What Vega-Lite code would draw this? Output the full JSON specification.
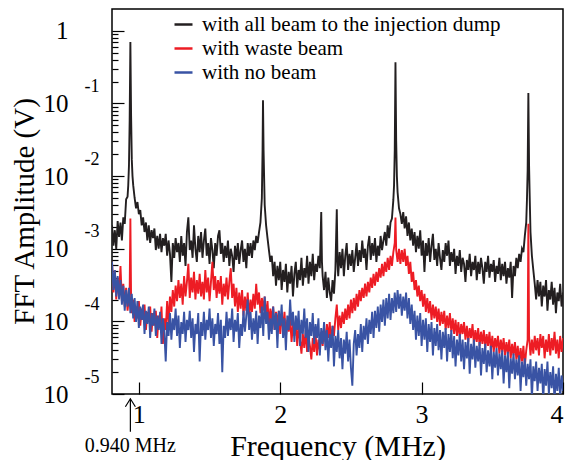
{
"$schema": "https://vega.github.io/schema/vega-lite/v6.json",
"width": 451, "height": 385,
"autosize": {"type": "none"},
"padding": {"left": 112, "top": 9, "right": 4, "bottom": 66},
"config": {
  "font": "Liberation Serif",
  "view": {"stroke": "#000", "strokeWidth": 1.5},
  "axis": {"labelColor": "#000", "titleColor": "#000", "tickColor": "#000", "grid": false, "domain": false, "titleFontWeight": "normal", "labelFont": "Liberation Serif", "titleFont": "Liberation Serif"},
  "legend": {"labelFont": "Liberation Serif", "labelColor": "#000"}
},
"datasets": {
"k": [
{"f":0.81,"v":2.1e-3},{"f":0.82,"v":1.1e-3},{"f":0.83,"v":1.8e-3},{"f":0.84,"v":9.9e-4},{"f":0.85,"v":2.4e-3},{"f":0.86,"v":1.45e-3},{"f":0.87,"v":2.3e-3},{"f":0.88,"v":1.3e-3},{"f":0.89,"v":2.7e-3},{"f":0.90,"v":2.2e-3},
{"f":0.91,"v":4.8e-3},{"f":0.92,"v":5.2e-3},{"f":0.925,"v":7.5e-3},{"f":0.93,"v":1.4e-2},{"f":0.935,"v":5.9e-2},{"f":0.94,"v":0.70},{"f":0.945,"v":6.9e-2},{"f":0.95,"v":1.7e-2},{"f":0.955,"v":1.0e-2},{"f":0.96,"v":7.5e-3},{"f":0.97,"v":5.0e-3},{"f":0.98,"v":3.6e-3},{"f":0.99,"v":4.4e-3},{"f":1.00,"v":3.0e-3},
{"f":1.01,"v":3.4e-3},{"f":1.02,"v":2.1e-3},{"f":1.03,"v":2.7e-3},{"f":1.04,"v":1.7e-3},{"f":1.05,"v":2.3e-3},{"f":1.06,"v":1.3e-3},{"f":1.07,"v":2.1e-3},{"f":1.08,"v":1.2e-3},{"f":1.09,"v":1.8e-3},{"f":1.10,"v":1.4e-3},
{"f":1.11,"v":1.9e-3},{"f":1.12,"v":9.6e-4},{"f":1.13,"v":1.5e-3},{"f":1.14,"v":1.0e-3},{"f":1.15,"v":1.6e-3},{"f":1.16,"v":9.0e-4},{"f":1.17,"v":1.4e-3},{"f":1.18,"v":1.1e-3},{"f":1.19,"v":1.6e-3},{"f":1.20,"v":8.0e-4},
{"f":1.21,"v":1.3e-3},{"f":1.22,"v":8.5e-4},{"f":1.23,"v":3.5e-4},{"f":1.24,"v":1.2e-3},{"f":1.25,"v":7.5e-4},{"f":1.26,"v":1.4e-3},{"f":1.27,"v":9.0e-4},{"f":1.28,"v":1.2e-3},{"f":1.29,"v":6.6e-4},{"f":1.30,"v":1.5e-3},
{"f":1.31,"v":8.0e-4},{"f":1.32,"v":1.2e-3},{"f":1.33,"v":5.8e-4},{"f":1.34,"v":1.7e-3},{"f":1.35,"v":2.7e-3},{"f":1.36,"v":9.6e-4},{"f":1.37,"v":1.3e-3},{"f":1.38,"v":7.5e-4},{"f":1.39,"v":2.1e-3},{"f":1.40,"v":1.0e-3},
{"f":1.41,"v":6.6e-4},{"f":1.42,"v":1.5e-3},{"f":1.43,"v":9.0e-4},{"f":1.44,"v":1.7e-3},{"f":1.45,"v":7.5e-4},{"f":1.46,"v":1.3e-3},{"f":1.47,"v":1.9e-3},{"f":1.48,"v":8.0e-4},{"f":1.49,"v":1.2e-3},{"f":1.50,"v":6.2e-4},
{"f":1.51,"v":1.4e-3},{"f":1.52,"v":9.6e-4},{"f":1.53,"v":5.4e-4},{"f":1.54,"v":1.2e-3},{"f":1.55,"v":8.0e-4},{"f":1.56,"v":1.5e-3},{"f":1.57,"v":1.8e-3},{"f":1.58,"v":8.5e-4},{"f":1.59,"v":1.2e-3},{"f":1.60,"v":6.6e-4},
{"f":1.61,"v":1.1e-3},{"f":1.62,"v":7.5e-4},{"f":1.63,"v":1.3e-3},{"f":1.64,"v":5.8e-4},{"f":1.65,"v":1.0e-3},{"f":1.66,"v":8.0e-4},{"f":1.67,"v":4.8e-4},{"f":1.68,"v":1.1e-3},{"f":1.69,"v":7.0e-4},{"f":1.70,"v":1.2e-3},
{"f":1.71,"v":6.2e-4},{"f":1.72,"v":9.6e-4},{"f":1.73,"v":1.3e-3},{"f":1.74,"v":6.6e-4},{"f":1.75,"v":1.0e-3},{"f":1.76,"v":5.4e-4},{"f":1.77,"v":1.2e-3},{"f":1.78,"v":8.0e-4},{"f":1.79,"v":1.2e-3},{"f":1.80,"v":7.5e-4},
{"f":1.81,"v":1.3e-3},{"f":1.82,"v":9.6e-4},{"f":1.83,"v":1.5e-3},{"f":1.84,"v":1.2e-3},{"f":1.85,"v":1.7e-3},{"f":1.86,"v":2.3e-3},{"f":1.87,"v":5.0e-3},{"f":1.875,"v":2.3e-2},{"f":1.878,"v":0.111},{"f":1.882,"v":2.3e-2},{"f":1.89,"v":4.0e-3},{"f":1.90,"v":2.1e-3},
{"f":1.91,"v":1.4e-3},{"f":1.92,"v":9.6e-4},{"f":1.93,"v":6.6e-4},{"f":1.94,"v":8.0e-4},{"f":1.95,"v":4.2e-4},{"f":1.96,"v":6.6e-4},{"f":1.97,"v":3.1e-4},{"f":1.98,"v":5.8e-4},{"f":1.99,"v":3.7e-4},{"f":2.00,"v":6.6e-4},
{"f":2.01,"v":2.7e-4},{"f":2.02,"v":5.1e-4},{"f":2.03,"v":3.5e-4},{"f":2.04,"v":6.2e-4},{"f":2.05,"v":2.5e-4},{"f":2.06,"v":4.8e-4},{"f":2.07,"v":3.3e-4},{"f":2.08,"v":5.8e-4},{"f":2.09,"v":2.2e-4},{"f":2.10,"v":4.5e-4},
{"f":2.11,"v":6.6e-4},{"f":2.12,"v":2.9e-4},{"f":2.13,"v":5.1e-4},{"f":2.14,"v":3.7e-4},{"f":2.15,"v":7.5e-4},{"f":2.16,"v":3.1e-4},{"f":2.17,"v":5.4e-4},{"f":2.18,"v":4.0e-4},{"f":2.19,"v":8.0e-4},{"f":2.20,"v":3.3e-4},
{"f":2.21,"v":6.6e-4},{"f":2.22,"v":4.2e-4},{"f":2.23,"v":8.5e-4},{"f":2.24,"v":3.7e-4},{"f":2.25,"v":6.2e-4},{"f":2.26,"v":4.8e-4},{"f":2.27,"v":8.0e-4},{"f":2.28,"v":5.4e-4},{"f":2.29,"v":3.2e-3},{"f":2.295,"v":6.6e-4},{"f":2.30,"v":4.2e-4},
{"f":2.31,"v":2.7e-4},{"f":2.32,"v":4.8e-4},{"f":2.33,"v":2.1e-4},{"f":2.34,"v":4.0e-4},{"f":2.35,"v":2.5e-4},{"f":2.36,"v":1.9e-4},{"f":2.37,"v":3.7e-4},{"f":2.38,"v":2.4e-4},{"f":2.39,"v":5.1e-4},{"f":2.40,"v":3.5e-3},{"f":2.405,"v":6.6e-4},
{"f":2.41,"v":4.2e-4},{"f":2.42,"v":9.0e-4},{"f":2.43,"v":5.4e-4},{"f":2.44,"v":1.0e-3},{"f":2.45,"v":4.2e-4},{"f":2.46,"v":8.0e-4},{"f":2.47,"v":1.2e-3},{"f":2.48,"v":5.1e-4},{"f":2.49,"v":8.5e-4},{"f":2.50,"v":5.8e-4},
{"f":2.51,"v":9.6e-4},{"f":2.52,"v":4.8e-4},{"f":2.53,"v":7.5e-4},{"f":2.54,"v":1.2e-3},{"f":2.55,"v":5.8e-4},{"f":2.56,"v":9.6e-4},{"f":2.57,"v":6.6e-4},{"f":2.58,"v":1.3e-3},{"f":2.59,"v":7.5e-4},{"f":2.60,"v":1.0e-3},
{"f":2.61,"v":5.1e-4},{"f":2.62,"v":1.1e-3},{"f":2.63,"v":1.5e-3},{"f":2.64,"v":7.0e-4},{"f":2.65,"v":1.2e-3},{"f":2.66,"v":8.0e-4},{"f":2.67,"v":1.4e-3},{"f":2.68,"v":6.6e-4},{"f":2.69,"v":1.1e-3},{"f":2.70,"v":8.0e-4},
{"f":2.71,"v":1.5e-3},{"f":2.72,"v":9.6e-4},{"f":2.73,"v":1.3e-3},{"f":2.74,"v":1.7e-3},{"f":2.75,"v":1.1e-3},{"f":2.76,"v":2.1e-3},{"f":2.77,"v":1.4e-3},{"f":2.78,"v":2.3e-3},{"f":2.79,"v":2.6e-3},{"f":2.80,"v":4.7e-3},
{"f":2.805,"v":7.5e-3},{"f":2.81,"v":2.3e-2},{"f":2.815,"v":0.37},{"f":2.82,"v":3.1e-2},{"f":2.825,"v":1.0e-2},{"f":2.83,"v":6.0e-3},{"f":2.84,"v":3.6e-3},{"f":2.85,"v":3.0e-3},{"f":2.86,"v":2.2e-3},{"f":2.87,"v":3.2e-3},{"f":2.88,"v":1.9e-3},{"f":2.89,"v":2.8e-3},{"f":2.90,"v":1.5e-3},
{"f":2.91,"v":2.3e-3},{"f":2.92,"v":1.3e-3},{"f":2.93,"v":1.9e-3},{"f":2.94,"v":1.1e-3},{"f":2.95,"v":1.7e-3},{"f":2.96,"v":9.0e-4},{"f":2.97,"v":1.5e-3},{"f":2.98,"v":1.0e-3},{"f":2.99,"v":1.8e-3},{"f":3.00,"v":8.0e-4},
{"f":3.01,"v":1.3e-3},{"f":3.02,"v":4.8e-4},{"f":3.03,"v":1.2e-3},{"f":3.04,"v":8.0e-4},{"f":3.05,"v":1.4e-3},{"f":3.06,"v":6.6e-4},{"f":3.07,"v":1.1e-3},{"f":3.08,"v":1.6e-3},{"f":3.09,"v":7.0e-4},{"f":3.10,"v":1.0e-3},
{"f":3.11,"v":5.8e-4},{"f":3.12,"v":1.2e-3},{"f":3.13,"v":7.5e-4},{"f":3.14,"v":5.1e-4},{"f":3.15,"v":9.6e-4},{"f":3.16,"v":6.6e-4},{"f":3.17,"v":1.2e-3},{"f":3.18,"v":8.0e-4},{"f":3.19,"v":1.3e-3},{"f":3.20,"v":5.8e-4},
{"f":3.21,"v":9.0e-4},{"f":3.22,"v":6.6e-4},{"f":3.23,"v":1.0e-3},{"f":3.24,"v":4.5e-4},{"f":3.25,"v":8.0e-4},{"f":3.26,"v":5.8e-4},{"f":3.27,"v":9.6e-4},{"f":3.28,"v":4.8e-4},{"f":3.29,"v":7.5e-4},{"f":3.30,"v":6.2e-4},
{"f":3.31,"v":3.5e-4},{"f":3.32,"v":7.0e-4},{"f":3.33,"v":5.1e-4},{"f":3.34,"v":8.5e-4},{"f":3.35,"v":4.2e-4},{"f":3.36,"v":6.6e-4},{"f":3.37,"v":5.1e-4},{"f":3.38,"v":8.0e-4},{"f":3.39,"v":3.7e-4},{"f":3.40,"v":6.6e-4},
{"f":3.41,"v":4.5e-4},{"f":3.42,"v":7.5e-4},{"f":3.43,"v":5.4e-4},{"f":3.44,"v":3.3e-4},{"f":3.45,"v":6.6e-4},{"f":3.46,"v":4.8e-4},{"f":3.47,"v":8.0e-4},{"f":3.48,"v":4.0e-4},{"f":3.49,"v":6.2e-4},{"f":3.50,"v":4.8e-4},
{"f":3.51,"v":7.0e-4},{"f":3.52,"v":3.5e-4},{"f":3.53,"v":5.8e-4},{"f":3.54,"v":4.5e-4},{"f":3.55,"v":7.5e-4},{"f":3.56,"v":3.7e-4},{"f":3.57,"v":6.2e-4},{"f":3.58,"v":4.2e-4},{"f":3.59,"v":6.6e-4},{"f":3.60,"v":3.3e-4},
{"f":3.61,"v":5.4e-4},{"f":3.62,"v":4.0e-4},{"f":3.63,"v":6.6e-4},{"f":3.64,"v":2.1e-4},{"f":3.65,"v":5.8e-4},{"f":3.66,"v":4.2e-4},{"f":3.67,"v":7.5e-4},{"f":3.68,"v":5.4e-4},{"f":3.69,"v":8.5e-4},{"f":3.70,"v":6.6e-4},
{"f":3.71,"v":1.0e-3},{"f":3.72,"v":9.0e-4},{"f":3.73,"v":1.5e-3},{"f":3.74,"v":2.3e-3},{"f":3.745,"v":4.7e-3},{"f":3.75,"v":1.2e-2},{"f":3.755,"v":0.139},{"f":3.76,"v":1.4e-2},{"f":3.765,"v":4.7e-3},{"f":3.77,"v":1.7e-3},{"f":3.78,"v":8.0e-4},{"f":3.79,"v":5.1e-4},{"f":3.80,"v":3.3e-4},
{"f":3.81,"v":2.0e-4},{"f":3.82,"v":3.7e-4},{"f":3.83,"v":2.2e-4},{"f":3.84,"v":3.5e-4},{"f":3.85,"v":1.6e-4},{"f":3.86,"v":3.1e-4},{"f":3.87,"v":2.2e-4},{"f":3.88,"v":3.7e-4},{"f":3.89,"v":1.4e-4},{"f":3.90,"v":2.7e-4},
{"f":3.91,"v":2.0e-4},{"f":3.92,"v":3.5e-4},{"f":3.93,"v":1.7e-4},{"f":3.94,"v":2.9e-4},{"f":3.95,"v":1.3e-4},{"f":3.96,"v":2.5e-4},{"f":3.97,"v":1.9e-4},{"f":3.98,"v":3.3e-4},{"f":3.99,"v":1.6e-4},{"f":4.00,"v":2.5e-4},{"f":4.01,"v":2.0e-4}
],
"r": [
{"f":0.81,"v":6.6e-4},{"f":0.82,"v":2.5e-4},{"f":0.83,"v":5.1e-4},{"f":0.84,"v":2.0e-4},{"f":0.85,"v":4.0e-4},{"f":0.86,"v":2.2e-4},{"f":0.87,"v":5.8e-4},{"f":0.88,"v":1.9e-4},{"f":0.89,"v":3.3e-4},{"f":0.90,"v":1.6e-4},
{"f":0.91,"v":2.9e-4},{"f":0.92,"v":1.4e-4},{"f":0.93,"v":2.2e-4},{"f":0.935,"v":2.7e-4},{"f":0.94,"v":2.6e-3},{"f":0.945,"v":2.1e-4},{"f":0.95,"v":1.3e-4},{"f":0.96,"v":2.0e-4},{"f":0.97,"v":9.8e-5},{"f":0.98,"v":1.6e-4},{"f":0.99,"v":1.1e-4},{"f":1.00,"v":1.9e-4},
{"f":1.01,"v":8.7e-5},{"f":1.02,"v":1.5e-4},{"f":1.03,"v":1.05e-4},{"f":1.04,"v":1.7e-4},{"f":1.05,"v":7.6e-5},{"f":1.06,"v":1.35e-4},{"f":1.07,"v":9.8e-5},{"f":1.08,"v":1.6e-4},{"f":1.09,"v":7.2e-5},{"f":1.10,"v":1.3e-4},
{"f":1.11,"v":8.7e-5},{"f":1.12,"v":1.4e-4},{"f":1.13,"v":5.9e-5},{"f":1.14,"v":1.2e-4},{"f":1.15,"v":8.1e-5},{"f":1.16,"v":1.6e-4},{"f":1.17,"v":4.9e-5},{"f":1.18,"v":1.1e-4},{"f":1.19,"v":7.6e-5},{"f":1.20,"v":1.9e-4},
{"f":1.21,"v":9.2e-5},{"f":1.22,"v":2.2e-4},{"f":1.23,"v":1.35e-4},{"f":1.24,"v":2.7e-4},{"f":1.25,"v":1.6e-4},{"f":1.26,"v":3.1e-4},{"f":1.27,"v":1.9e-4},{"f":1.28,"v":3.7e-4},{"f":1.29,"v":2.1e-4},{"f":1.30,"v":3.3e-4},
{"f":1.31,"v":1.7e-4},{"f":1.32,"v":4.2e-4},{"f":1.33,"v":2.2e-4},{"f":1.34,"v":3.5e-4},{"f":1.35,"v":6.2e-4},{"f":1.36,"v":2.1e-4},{"f":1.37,"v":4.0e-4},{"f":1.38,"v":2.5e-4},{"f":1.39,"v":4.8e-4},{"f":1.40,"v":2.0e-4},
{"f":1.41,"v":3.7e-4},{"f":1.42,"v":2.4e-4},{"f":1.43,"v":4.5e-4},{"f":1.44,"v":2.2e-4},{"f":1.45,"v":3.5e-4},{"f":1.46,"v":2.0e-4},{"f":1.47,"v":5.1e-4},{"f":1.48,"v":2.5e-4},{"f":1.49,"v":4.0e-4},{"f":1.50,"v":1.9e-4},
{"f":1.51,"v":3.5e-4},{"f":1.52,"v":6.6e-4},{"f":1.53,"v":2.7e-4},{"f":1.54,"v":4.2e-4},{"f":1.55,"v":2.1e-4},{"f":1.56,"v":3.7e-4},{"f":1.57,"v":2.4e-4},{"f":1.58,"v":4.2e-4},{"f":1.59,"v":1.7e-4},{"f":1.60,"v":3.3e-4},
{"f":1.61,"v":2.2e-4},{"f":1.62,"v":4.0e-4},{"f":1.63,"v":2.0e-4},{"f":1.64,"v":3.5e-4},{"f":1.65,"v":5.4e-4},{"f":1.66,"v":2.1e-4},{"f":1.67,"v":3.3e-4},{"f":1.68,"v":1.6e-4},{"f":1.69,"v":2.9e-4},{"f":1.70,"v":1.35e-4},
{"f":1.71,"v":2.5e-4},{"f":1.72,"v":1.5e-4},{"f":1.73,"v":2.7e-4},{"f":1.74,"v":1.2e-4},{"f":1.75,"v":2.2e-4},{"f":1.76,"v":1.4e-4},{"f":1.77,"v":2.5e-4},{"f":1.78,"v":1.1e-4},{"f":1.79,"v":2.0e-4},{"f":1.80,"v":1.35e-4},
{"f":1.81,"v":2.4e-4},{"f":1.82,"v":1.5e-4},{"f":1.83,"v":3.3e-4},{"f":1.84,"v":1.7e-4},{"f":1.85,"v":2.5e-4},{"f":1.86,"v":1.3e-4},{"f":1.87,"v":2.1e-4},{"f":1.88,"v":1.4e-4},{"f":1.89,"v":2.2e-4},{"f":1.90,"v":1.1e-4},
{"f":1.91,"v":1.9e-4},{"f":1.92,"v":8.7e-5},{"f":1.93,"v":1.5e-4},{"f":1.94,"v":1.05e-4},{"f":1.95,"v":1.6e-4},{"f":1.96,"v":7.6e-5},{"f":1.97,"v":1.35e-4},{"f":1.98,"v":9.2e-5},{"f":1.99,"v":1.4e-4},{"f":2.00,"v":6.7e-5},
{"f":2.01,"v":1.2e-4},{"f":2.02,"v":8.1e-5},{"f":2.03,"v":1.35e-4},{"f":2.04,"v":5.9e-5},{"f":2.05,"v":1.05e-4},{"f":2.06,"v":7.2e-5},{"f":2.07,"v":1.1e-4},{"f":2.08,"v":5.2e-5},{"f":2.09,"v":9.2e-5},{"f":2.10,"v":6.3e-5},
{"f":2.11,"v":1.05e-4},{"f":2.12,"v":4.6e-5},{"f":2.13,"v":8.1e-5},{"f":2.14,"v":5.6e-5},{"f":2.15,"v":3.6e-5},{"f":2.16,"v":6.7e-5},{"f":2.17,"v":4.3e-5},{"f":2.18,"v":7.6e-5},{"f":2.19,"v":3.8e-5},{"f":2.20,"v":6.3e-5},
{"f":2.21,"v":4.6e-5},{"f":2.22,"v":3.0e-5},{"f":2.23,"v":5.9e-5},{"f":2.24,"v":3.8e-5},{"f":2.25,"v":6.7e-5},{"f":2.26,"v":3.4e-5},{"f":2.27,"v":5.6e-5},{"f":2.28,"v":4.0e-5},{"f":2.29,"v":7.2e-5},{"f":2.30,"v":4.6e-5},
{"f":2.31,"v":8.1e-5},{"f":2.32,"v":5.2e-5},{"f":2.33,"v":9.2e-5},{"f":2.34,"v":5.9e-5},{"f":2.35,"v":9.8e-5},{"f":2.36,"v":4.9e-5},{"f":2.37,"v":8.7e-5},{"f":2.38,"v":6.3e-5},{"f":2.39,"v":1.1e-4},{"f":2.40,"v":1.7e-4},
{"f":2.41,"v":7.6e-5},{"f":2.42,"v":1.2e-4},{"f":2.43,"v":8.1e-5},{"f":2.44,"v":1.35e-4},{"f":2.45,"v":9.2e-5},{"f":2.46,"v":1.5e-4},{"f":2.47,"v":1.05e-4},{"f":2.48,"v":1.7e-4},{"f":2.49,"v":1.1e-4},{"f":2.50,"v":2.0e-4},
{"f":2.51,"v":1.3e-4},{"f":2.52,"v":2.1e-4},{"f":2.53,"v":1.4e-4},{"f":2.54,"v":2.4e-4},{"f":2.55,"v":1.6e-4},{"f":2.56,"v":2.7e-4},{"f":2.57,"v":1.9e-4},{"f":2.58,"v":2.9e-4},{"f":2.59,"v":2.1e-4},{"f":2.60,"v":3.3e-4},
{"f":2.61,"v":2.2e-4},{"f":2.62,"v":3.5e-4},{"f":2.63,"v":2.5e-4},{"f":2.64,"v":4.0e-4},{"f":2.65,"v":2.9e-4},{"f":2.66,"v":4.5e-4},{"f":2.67,"v":3.1e-4},{"f":2.68,"v":4.8e-4},{"f":2.69,"v":3.5e-4},{"f":2.70,"v":5.4e-4},
{"f":2.71,"v":4.0e-4},{"f":2.72,"v":6.2e-4},{"f":2.73,"v":4.2e-4},{"f":2.74,"v":6.6e-4},{"f":2.75,"v":4.8e-4},{"f":2.76,"v":7.5e-4},{"f":2.77,"v":5.1e-4},{"f":2.78,"v":8.0e-4},{"f":2.79,"v":5.8e-4},{"f":2.80,"v":9.0e-4},
{"f":2.81,"v":1.2e-3},{"f":2.815,"v":2.7e-3},{"f":2.82,"v":9.6e-4},{"f":2.83,"v":6.6e-4},{"f":2.84,"v":1.0e-3},{"f":2.85,"v":6.2e-4},{"f":2.86,"v":9.6e-4},{"f":2.87,"v":6.6e-4},{"f":2.88,"v":1.0e-3},{"f":2.89,"v":5.8e-4},{"f":2.90,"v":8.0e-4},
{"f":2.91,"v":4.5e-4},{"f":2.92,"v":6.6e-4},{"f":2.93,"v":3.5e-4},{"f":2.94,"v":4.8e-4},{"f":2.95,"v":2.7e-4},{"f":2.96,"v":3.7e-4},{"f":2.97,"v":2.2e-4},{"f":2.98,"v":3.1e-4},{"f":2.99,"v":1.9e-4},{"f":3.00,"v":2.7e-4},
{"f":3.01,"v":1.6e-4},{"f":3.02,"v":2.4e-4},{"f":3.03,"v":1.35e-4},{"f":3.04,"v":2.1e-4},{"f":3.05,"v":1.3e-4},{"f":3.06,"v":1.9e-4},{"f":3.07,"v":1.05e-4},{"f":3.08,"v":1.7e-4},{"f":3.09,"v":1.1e-4},{"f":3.10,"v":1.6e-4},
{"f":3.11,"v":9.8e-5},{"f":3.12,"v":1.5e-4},{"f":3.13,"v":8.7e-5},{"f":3.14,"v":1.35e-4},{"f":3.15,"v":9.2e-5},{"f":3.16,"v":1.4e-4},{"f":3.17,"v":7.6e-5},{"f":3.18,"v":1.2e-4},{"f":3.19,"v":8.1e-5},{"f":3.20,"v":1.3e-4},
{"f":3.21,"v":7.2e-5},{"f":3.22,"v":1.1e-4},{"f":3.23,"v":6.7e-5},{"f":3.24,"v":1.05e-4},{"f":3.25,"v":6.3e-5},{"f":3.26,"v":9.8e-5},{"f":3.27,"v":5.9e-5},{"f":3.28,"v":9.2e-5},{"f":3.29,"v":6.7e-5},{"f":3.30,"v":9.8e-5},
{"f":3.31,"v":5.6e-5},{"f":3.32,"v":8.7e-5},{"f":3.33,"v":5.2e-5},{"f":3.34,"v":8.1e-5},{"f":3.35,"v":5.9e-5},{"f":3.36,"v":9.2e-5},{"f":3.37,"v":4.9e-5},{"f":3.38,"v":7.6e-5},{"f":3.39,"v":5.2e-5},{"f":3.40,"v":8.1e-5},
{"f":3.41,"v":4.6e-5},{"f":3.42,"v":7.2e-5},{"f":3.43,"v":4.9e-5},{"f":3.44,"v":7.6e-5},{"f":3.45,"v":4.3e-5},{"f":3.46,"v":6.7e-5},{"f":3.47,"v":4.6e-5},{"f":3.48,"v":7.2e-5},{"f":3.49,"v":4.0e-5},{"f":3.50,"v":6.3e-5},
{"f":3.51,"v":3.8e-5},{"f":3.52,"v":5.9e-5},{"f":3.53,"v":4.3e-5},{"f":3.54,"v":6.3e-5},{"f":3.55,"v":3.6e-5},{"f":3.56,"v":5.6e-5},{"f":3.57,"v":3.8e-5},{"f":3.58,"v":5.9e-5},{"f":3.59,"v":3.4e-5},{"f":3.60,"v":5.2e-5},
{"f":3.61,"v":3.6e-5},{"f":3.62,"v":5.6e-5},{"f":3.63,"v":3.1e-5},{"f":3.64,"v":4.9e-5},{"f":3.65,"v":3.4e-5},{"f":3.66,"v":5.2e-5},{"f":3.67,"v":3.0e-5},{"f":3.68,"v":4.6e-5},{"f":3.69,"v":2.6e-5},{"f":3.70,"v":4.3e-5},
{"f":3.71,"v":2.8e-5},{"f":3.72,"v":4.6e-5},{"f":3.73,"v":2.4e-5},{"f":3.74,"v":4.0e-5},{"f":3.75,"v":5.6e-5},{"f":3.755,"v":2.2e-3},{"f":3.76,"v":6.3e-5},{"f":3.77,"v":3.4e-5},{"f":3.78,"v":5.6e-5},{"f":3.79,"v":3.6e-5},{"f":3.80,"v":6.3e-5},
{"f":3.81,"v":4.0e-5},{"f":3.82,"v":5.9e-5},{"f":3.83,"v":3.4e-5},{"f":3.84,"v":6.7e-5},{"f":3.85,"v":4.3e-5},{"f":3.86,"v":6.3e-5},{"f":3.87,"v":3.1e-5},{"f":3.88,"v":5.6e-5},{"f":3.89,"v":3.8e-5},{"f":3.90,"v":6.7e-5},
{"f":3.91,"v":3.4e-5},{"f":3.92,"v":5.9e-5},{"f":3.93,"v":4.0e-5},{"f":3.94,"v":7.2e-5},{"f":3.95,"v":3.6e-5},{"f":3.96,"v":5.6e-5},{"f":3.97,"v":3.1e-5},{"f":3.98,"v":6.3e-5},{"f":3.99,"v":3.8e-5},{"f":4.00,"v":5.9e-5},{"f":4.01,"v":4.3e-5}
],
"b": [
{"f":0.81,"v":6.6e-4},{"f":0.82,"v":2.7e-4},{"f":0.83,"v":5.1e-4},{"f":0.84,"v":2.2e-4},{"f":0.85,"v":4.2e-4},{"f":0.86,"v":2.0e-4},{"f":0.87,"v":3.7e-4},{"f":0.88,"v":1.7e-4},{"f":0.89,"v":3.1e-4},{"f":0.90,"v":1.4e-4},
{"f":0.91,"v":2.7e-4},{"f":0.92,"v":1.6e-4},{"f":0.93,"v":2.9e-4},{"f":0.94,"v":1.3e-4},{"f":0.95,"v":2.4e-4},{"f":0.96,"v":1.1e-4},{"f":0.97,"v":2.1e-4},{"f":0.98,"v":9.8e-5},{"f":0.99,"v":1.9e-4},{"f":1.00,"v":8.1e-5},
{"f":1.01,"v":1.6e-4},{"f":1.02,"v":1.05e-4},{"f":1.03,"v":1.7e-4},{"f":1.04,"v":6.7e-5},{"f":1.05,"v":1.4e-4},{"f":1.06,"v":9.2e-5},{"f":1.07,"v":1.6e-4},{"f":1.08,"v":5.9e-5},{"f":1.09,"v":1.3e-4},{"f":1.10,"v":8.7e-5},
{"f":1.11,"v":1.5e-4},{"f":1.12,"v":6.3e-5},{"f":1.13,"v":1.2e-4},{"f":1.14,"v":7.6e-5},{"f":1.15,"v":1.35e-4},{"f":1.16,"v":4.9e-5},{"f":1.17,"v":1.1e-4},{"f":1.18,"v":7.2e-5},{"f":1.19,"v":2.8e-5},{"f":1.20,"v":9.8e-5},
{"f":1.21,"v":6.3e-5},{"f":1.22,"v":1.3e-4},{"f":1.23,"v":5.6e-5},{"f":1.24,"v":1.1e-4},{"f":1.25,"v":7.6e-5},{"f":1.26,"v":1.5e-4},{"f":1.27,"v":6.3e-5},{"f":1.28,"v":1.2e-4},{"f":1.29,"v":4.3e-5},{"f":1.30,"v":9.8e-5},
{"f":1.31,"v":6.7e-5},{"f":1.32,"v":1.35e-4},{"f":1.33,"v":5.2e-5},{"f":1.34,"v":1.05e-4},{"f":1.35,"v":7.6e-5},{"f":1.36,"v":1.4e-4},{"f":1.37,"v":5.9e-5},{"f":1.38,"v":1.1e-4},{"f":1.39,"v":3.8e-5},{"f":1.40,"v":9.2e-5},
{"f":1.41,"v":6.7e-5},{"f":1.42,"v":1.3e-4},{"f":1.43,"v":2.8e-5},{"f":1.44,"v":9.8e-5},{"f":1.45,"v":6.3e-5},{"f":1.46,"v":1.35e-4},{"f":1.47,"v":5.6e-5},{"f":1.48,"v":1.05e-4},{"f":1.49,"v":7.6e-5},{"f":1.50,"v":1.5e-4},
{"f":1.51,"v":5.9e-5},{"f":1.52,"v":1.1e-4},{"f":1.53,"v":4.6e-5},{"f":1.54,"v":9.2e-5},{"f":1.55,"v":6.7e-5},{"f":1.56,"v":1.3e-4},{"f":1.57,"v":4.9e-5},{"f":1.58,"v":1.05e-4},{"f":1.59,"v":2.0e-5},{"f":1.60,"v":8.7e-5},
{"f":1.61,"v":5.9e-5},{"f":1.62,"v":1.35e-4},{"f":1.63,"v":6.3e-5},{"f":1.64,"v":1.1e-4},{"f":1.65,"v":7.6e-5},{"f":1.66,"v":1.5e-4},{"f":1.67,"v":5.2e-5},{"f":1.68,"v":1.05e-4},{"f":1.69,"v":7.2e-5},{"f":1.70,"v":1.3e-4},
{"f":1.71,"v":4.3e-5},{"f":1.72,"v":9.2e-5},{"f":1.73,"v":6.3e-5},{"f":1.74,"v":1.4e-4},{"f":1.75,"v":7.2e-5},{"f":1.76,"v":1.2e-4},{"f":1.77,"v":2.0e-4},{"f":1.78,"v":7.6e-5},{"f":1.79,"v":1.35e-4},{"f":1.80,"v":5.6e-5},
{"f":1.81,"v":1.1e-4},{"f":1.82,"v":6.7e-5},{"f":1.83,"v":1.4e-4},{"f":1.84,"v":4.9e-5},{"f":1.85,"v":1.2e-4},{"f":1.86,"v":8.1e-5},{"f":1.87,"v":1.6e-4},{"f":1.88,"v":6.3e-5},{"f":1.89,"v":2.2e-4},{"f":1.90,"v":9.2e-5},
{"f":1.91,"v":1.35e-4},{"f":1.92,"v":5.6e-5},{"f":1.93,"v":1.1e-4},{"f":1.94,"v":6.7e-5},{"f":1.95,"v":1.6e-4},{"f":1.96,"v":7.6e-5},{"f":1.97,"v":1.3e-4},{"f":1.98,"v":4.3e-5},{"f":1.99,"v":1.4e-4},{"f":2.00,"v":8.7e-5},
{"f":2.01,"v":1.7e-4},{"f":2.02,"v":5.9e-5},{"f":2.03,"v":1.1e-4},{"f":2.04,"v":4.0e-5},{"f":2.05,"v":1.2e-4},{"f":2.06,"v":7.6e-5},{"f":2.07,"v":2.0e-4},{"f":2.08,"v":8.7e-5},{"f":2.09,"v":1.35e-4},{"f":2.10,"v":5.2e-5},
{"f":2.11,"v":1.2e-4},{"f":2.12,"v":7.6e-5},{"f":2.13,"v":1.4e-4},{"f":2.14,"v":4.6e-5},{"f":2.15,"v":1.05e-4},{"f":2.16,"v":6.7e-5},{"f":2.17,"v":1.5e-4},{"f":2.18,"v":5.9e-5},{"f":2.19,"v":1.1e-4},{"f":2.20,"v":3.8e-5},
{"f":2.21,"v":9.8e-5},{"f":2.22,"v":6.3e-5},{"f":2.23,"v":1.3e-4},{"f":2.24,"v":4.9e-5},{"f":2.25,"v":9.2e-5},{"f":2.26,"v":5.9e-5},{"f":2.27,"v":1.1e-4},{"f":2.28,"v":3.4e-5},{"f":2.29,"v":8.1e-5},{"f":2.30,"v":4.9e-5},
{"f":2.31,"v":9.8e-5},{"f":2.32,"v":4.0e-5},{"f":2.33,"v":7.6e-5},{"f":2.34,"v":2.8e-5},{"f":2.35,"v":6.7e-5},{"f":2.36,"v":4.3e-5},{"f":2.37,"v":8.7e-5},{"f":2.38,"v":2.4e-5},{"f":2.39,"v":6.3e-5},{"f":2.40,"v":3.8e-5},
{"f":2.41,"v":7.6e-5},{"f":2.42,"v":3.1e-5},{"f":2.43,"v":5.9e-5},{"f":2.44,"v":2.2e-5},{"f":2.45,"v":5.6e-5},{"f":2.46,"v":3.6e-5},{"f":2.47,"v":7.2e-5},{"f":2.48,"v":2.8e-5},{"f":2.49,"v":5.6e-5},{"f":2.50,"v":2.3e-5},
{"f":2.51,"v":1.3e-5},{"f":2.52,"v":4.9e-5},{"f":2.53,"v":7.6e-5},{"f":2.54,"v":3.4e-5},{"f":2.55,"v":6.7e-5},{"f":2.56,"v":4.3e-5},{"f":2.57,"v":9.2e-5},{"f":2.58,"v":3.8e-5},{"f":2.59,"v":8.7e-5},{"f":2.60,"v":5.6e-5},
{"f":2.61,"v":1.1e-4},{"f":2.62,"v":4.9e-5},{"f":2.63,"v":1.05e-4},{"f":2.64,"v":6.7e-5},{"f":2.65,"v":1.35e-4},{"f":2.66,"v":5.9e-5},{"f":2.67,"v":1.4e-4},{"f":2.68,"v":8.1e-5},{"f":2.69,"v":1.6e-4},{"f":2.70,"v":7.2e-5},
{"f":2.71,"v":1.7e-4},{"f":2.72,"v":9.8e-5},{"f":2.73,"v":2.0e-4},{"f":2.74,"v":8.7e-5},{"f":2.75,"v":2.1e-4},{"f":2.76,"v":1.1e-4},{"f":2.77,"v":2.4e-4},{"f":2.78,"v":1.05e-4},{"f":2.79,"v":2.1e-4},{"f":2.80,"v":1.3e-4},
{"f":2.81,"v":2.5e-4},{"f":2.82,"v":1.35e-4},{"f":2.83,"v":2.7e-4},{"f":2.84,"v":1.5e-4},{"f":2.85,"v":2.4e-4},{"f":2.86,"v":1.2e-4},{"f":2.87,"v":2.2e-4},{"f":2.88,"v":1.4e-4},{"f":2.89,"v":2.5e-4},{"f":2.90,"v":1.1e-4},
{"f":2.91,"v":2.1e-4},{"f":2.92,"v":9.2e-5},{"f":2.93,"v":1.7e-4},{"f":2.94,"v":7.6e-5},{"f":2.95,"v":1.4e-4},{"f":2.96,"v":5.6e-5},{"f":2.97,"v":1.2e-4},{"f":2.98,"v":6.3e-5},{"f":2.99,"v":1.3e-4},{"f":3.00,"v":4.6e-5},
{"f":3.01,"v":1.05e-4},{"f":3.02,"v":5.6e-5},{"f":3.03,"v":1.1e-4},{"f":3.04,"v":3.8e-5},{"f":3.05,"v":9.2e-5},{"f":3.06,"v":5.2e-5},{"f":3.07,"v":9.8e-5},{"f":3.08,"v":3.4e-5},{"f":3.09,"v":8.1e-5},{"f":3.10,"v":4.6e-5},
{"f":3.11,"v":9.2e-5},{"f":3.12,"v":4.0e-5},{"f":3.13,"v":7.6e-5},{"f":3.14,"v":3.0e-5},{"f":3.15,"v":7.2e-5},{"f":3.16,"v":4.3e-5},{"f":3.17,"v":8.1e-5},{"f":3.18,"v":2.8e-5},{"f":3.19,"v":6.7e-5},{"f":3.20,"v":3.8e-5},
{"f":3.21,"v":7.6e-5},{"f":3.22,"v":3.1e-5},{"f":3.23,"v":6.3e-5},{"f":3.24,"v":2.4e-5},{"f":3.25,"v":5.6e-5},{"f":3.26,"v":3.4e-5},{"f":3.27,"v":6.7e-5},{"f":3.28,"v":2.8e-5},{"f":3.29,"v":5.6e-5},{"f":3.30,"v":2.2e-5},
{"f":3.31,"v":5.2e-5},{"f":3.32,"v":3.1e-5},{"f":3.33,"v":5.9e-5},{"f":3.34,"v":1.9e-5},{"f":3.35,"v":4.9e-5},{"f":3.36,"v":3.0e-5},{"f":3.37,"v":5.6e-5},{"f":3.38,"v":2.3e-5},{"f":3.39,"v":4.6e-5},{"f":3.40,"v":2.8e-5},
{"f":3.41,"v":5.2e-5},{"f":3.42,"v":1.8e-5},{"f":3.43,"v":4.3e-5},{"f":3.44,"v":2.6e-5},{"f":3.45,"v":4.9e-5},{"f":3.46,"v":2.0e-5},{"f":3.47,"v":4.0e-5},{"f":3.48,"v":2.4e-5},{"f":3.49,"v":4.6e-5},{"f":3.50,"v":1.6e-5},
{"f":3.51,"v":3.8e-5},{"f":3.52,"v":2.3e-5},{"f":3.53,"v":4.3e-5},{"f":3.54,"v":1.8e-5},{"f":3.55,"v":3.6e-5},{"f":3.56,"v":2.2e-5},{"f":3.57,"v":4.0e-5},{"f":3.58,"v":1.4e-5},{"f":3.59,"v":3.4e-5},{"f":3.60,"v":2.0e-5},
{"f":3.61,"v":3.8e-5},{"f":3.62,"v":1.2e-5},{"f":3.63,"v":3.1e-5},{"f":3.64,"v":1.9e-5},{"f":3.65,"v":3.6e-5},{"f":3.66,"v":1.6e-5},{"f":3.67,"v":3.0e-5},{"f":3.68,"v":1.8e-5},{"f":3.69,"v":3.4e-5},{"f":3.70,"v":1.1e-5},
{"f":3.71,"v":2.8e-5},{"f":3.72,"v":1.7e-5},{"f":3.73,"v":3.1e-5},{"f":3.74,"v":1.3e-5},{"f":3.75,"v":2.6e-5},{"f":3.76,"v":1.6e-5},{"f":3.77,"v":3.0e-5},{"f":3.78,"v":8.8e-6},{"f":3.79,"v":2.4e-5},{"f":3.80,"v":1.5e-5},
{"f":3.81,"v":2.8e-5},{"f":3.82,"v":1.1e-5},{"f":3.83,"v":2.3e-5},{"f":3.84,"v":1.4e-5},{"f":3.85,"v":2.6e-5},{"f":3.86,"v":8.3e-6},{"f":3.87,"v":2.2e-5},{"f":3.88,"v":1.3e-5},{"f":3.89,"v":2.8e-5},{"f":3.90,"v":1.0e-5},
{"f":3.91,"v":2.0e-5},{"f":3.92,"v":1.2e-5},{"f":3.93,"v":2.4e-5},{"f":3.94,"v":7.8e-6},{"f":3.95,"v":1.9e-5},{"f":3.96,"v":1.1e-5},{"f":3.97,"v":2.3e-5},{"f":3.98,"v":8.8e-6},{"f":3.99,"v":1.8e-5},{"f":4.00,"v":1.1e-5},{"f":4.01,"v":2.2e-5}
]
},
"encoding": {
  "x": {"field": "f", "type": "quantitative", "scale": {"domain": [0.81, 4.0], "nice": false, "zero": false},
    "axis": {"title": "Frequency (MHz)", "values": [1, 2, 3, 4], "format": "d", "tickSize": -12, "tickWidth": 1.2, "labelFlush": true, "labelPadding": 19, "labelFontSize": 26, "labelFont": "Liberation Serif", "titleFont": "Liberation Serif", "titleFontSize": 30, "titleY": 61, "titleBaseline": "alphabetic"}}
},
"resolve": {"axis": {"y": "independent"}},
"layer": [
{
  "data": {"name": "k"},
  "mark": {"type": "line", "clip": true, "strokeWidth": 1.9},
  "encoding": {
    "y": {"field": "v", "type": "quantitative", "scale": {"type": "log", "domain": [1e-5, 2], "nice": false},
      "axis": {"orient": "left", "title": "FFT Amplitude (V)", "values": [1e-5, 1e-4, 1e-3, 1e-2, 1e-1, 1], "labelExpr": "datum.value >= 0.5 ? '1' : '10'", "tickSize": -12, "tickWidth": 1.2, "labelPadding": 56, "labelFontSize": 25, "labelFont": "Liberation Serif", "titleFont": "Liberation Serif", "titleFontSize": 29, "titleX": -79, "titleY": 202, "titleAngle": 270, "titleAlign": "center", "titleBaseline": "alphabetic"}},
    "color": {"datum": "with all beam to the injection dump", "type": "nominal",
      "scale": {"domain": ["with all beam to the injection dump", "with waste beam", "with no beam"], "range": ["#231f20", "#ed1c24", "#3953a4"]},
      "legend": {"orient": "none", "legendX": 61, "legendY": 5, "title": null, "symbolType": "stroke", "symbolSize": 324, "symbolStrokeWidth": 2.5, "labelFontSize": 21, "labelFont": "Liberation Serif", "labelLimit": 0, "labelOffset": 8, "rowPadding": 2}}
  }
},
{
  "data": {"name": "r"},
  "mark": {"type": "line", "clip": true, "strokeWidth": 1.9},
  "encoding": {
    "y": {"field": "v", "type": "quantitative",
      "axis": {"orient": "left", "title": null, "labels": false, "tickSize": -6, "tickWidth": 1.2,
        "values": [2e-5,3e-5,4e-5,5e-5,6e-5,7e-5,8e-5,9e-5,2e-4,3e-4,4e-4,5e-4,6e-4,7e-4,8e-4,9e-4,2e-3,3e-3,4e-3,5e-3,6e-3,7e-3,8e-3,9e-3,2e-2,3e-2,4e-2,5e-2,6e-2,7e-2,8e-2,9e-2,0.2,0.3,0.4,0.5,0.6,0.7,0.8,0.9]}},
    "color": {"datum": "with waste beam", "type": "nominal"}
  }
},
{
  "data": {"name": "b"},
  "mark": {"type": "line", "clip": true, "strokeWidth": 1.9},
  "encoding": {
    "y": {"field": "v", "type": "quantitative",
      "axis": {"orient": "left", "title": null, "ticks": false, "values": [1e-5, 1e-4, 1e-3, 1e-2, 1e-1], "labelExpr": "'' + round(log(datum.value) / LN10)", "labelPadding": 13, "labelOffset": -17, "labelFontSize": 18, "labelFont": "Liberation Serif"}},
    "color": {"datum": "with no beam", "type": "nominal"}
  }
},
{
  "data": {"values": [{"f": 0.94}]},
  "mark": {"type": "rule", "clip": false, "color": "#000", "strokeWidth": 1.2},
  "encoding": {
    "y": {"datum": 8.6e-6, "type": "quantitative", "axis": null},
    "y2": {"datum": 3.02e-6}
  }
},
{
  "data": {"values": [{"f": 0.94}]},
  "mark": {"type": "point", "clip": false, "shape": "M-1,0.8L0,-0.8L1,0.8", "filled": false, "stroke": "#000", "strokeWidth": 1.2, "size": 100, "opacity": 1},
  "encoding": {
    "y": {"datum": 7.57e-6, "type": "quantitative", "axis": null}
  }
},
{
  "data": {"values": [{"f": 0.94, "t": "0.940 MHz"}]},
  "mark": {"type": "text", "clip": false, "fontSize": 20, "align": "center", "baseline": "alphabetic", "color": "#000", "font": "Liberation Serif"},
  "encoding": {
    "y": {"datum": 1.57e-6, "type": "quantitative", "axis": null},
    "text": {"field": "t"}
  }
}
]
}
